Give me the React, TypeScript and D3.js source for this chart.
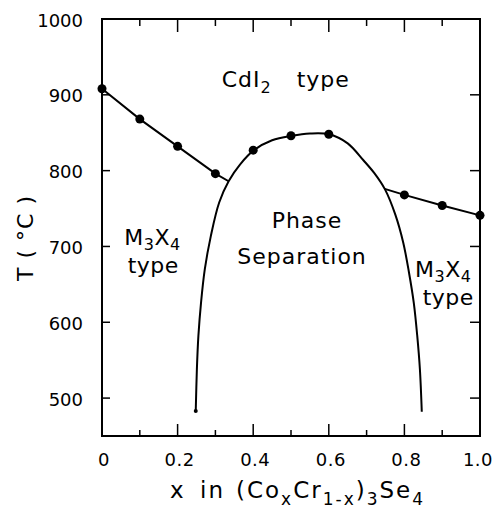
import React from "react";
import * as d3 from "d3";

// Data
const leftBranchX = [0, 0.1, 0.2, 0.3, 0.335];
const leftBranchT = [908, 868, 832, 796, 786];
const leftMarkers = [0, 0.1, 0.2, 0.3];

const rightBranchX = [0.748, 0.8, 0.9, 1.0];
const rightBranchT = [776, 768, 754, 741];
const rightMarkers = [0.8, 0.9, 1.0];

const domeMarkerX = [0.4, 0.5, 0.6];
const domeMarkerT = [827, 846, 848];

const domeX = [0.248, 0.251, 0.255, 0.262, 0.272, 0.288, 0.31, 0.335, 0.365, 0.402, 0.45, 0.502, 0.55, 0.601, 0.65, 0.691, 0.72, 0.749, 0.776, 0.797, 0.812, 0.825, 0.834, 0.841, 0.846];
const domeT = [483, 538, 582, 626, 670, 714, 758, 786, 808, 827, 840, 846, 849, 848, 836, 814, 797, 775, 742, 705, 666, 625, 582, 538, 482];

const xMajorTicks = [0, 0.2, 0.4, 0.6, 0.8, 1.0];
const xTickLabels = ["0", "0.2", "0.4", "0.6", "0.8", "1.0"];
const xMinorTicks = [0.1, 0.3, 0.5, 0.7, 0.9];
const yTicks = [500, 600, 700, 800, 900, 1000];
const yTickLabels = ["500", "600", "700", "800", "900", "1000"];

export default function App() {
  const W = 494, H = 509;
  const x = d3.scaleLinear().domain([0, 1]).range([102, 480]);
  const y = d3.scaleLinear().domain([450, 1000]).range([436, 19]);

  const lin = d3.line<[number, number]>().x(d => x(d[0])).y(d => y(d[1]));
  const smooth = d3.line<[number, number]>().x(d => x(d[0])).y(d => y(d[1])).curve(d3.curveCatmullRom.alpha(0.5));

  const leftPts = leftBranchX.map((v, i) => [v, leftBranchT[i]] as [number, number]);
  const rightPts = rightBranchX.map((v, i) => [v, rightBranchT[i]] as [number, number]);
  const domePts = domeX.map((v, i) => [v, domeT[i]] as [number, number]);

  const markers: [number, number][] = [
    ...leftMarkers.map(v => [v, leftBranchT[leftBranchX.indexOf(v)]] as [number, number]),
    ...domeMarkerX.map((v, i) => [v, domeMarkerT[i]] as [number, number]),
    ...rightMarkers.map(v => [v, rightBranchT[rightBranchX.indexOf(v)]] as [number, number]),
  ];

  const font = "'DejaVu Sans', sans-serif";
  const [x0, x1] = x.range();
  const [yb, yt] = y.range();

  return (
    <svg width={W} height={H} style={{ position: "absolute", left: 0, top: 0, background: "#fff" }} fontFamily={font}>
      {/* frame */}
      <rect x={x0} y={yt} width={x1 - x0} height={yb - yt} fill="none" stroke="#000" strokeWidth={2} />
      {xMajorTicks.map(t => (
        <g key={"xm" + t}>
          <line x1={x(t)} x2={x(t)} y1={yb} y2={yb - 12} stroke="#000" strokeWidth={1.5} />
          <line x1={x(t)} x2={x(t)} y1={yt} y2={yt + 13} stroke="#000" strokeWidth={1.5} />
        </g>
      ))}
      {xMinorTicks.map(t => (
        <g key={"xn" + t}>
          <line x1={x(t)} x2={x(t)} y1={yb} y2={yb - 6} stroke="#000" strokeWidth={1.5} />
          <line x1={x(t)} x2={x(t)} y1={yt} y2={yt + 7} stroke="#000" strokeWidth={1.5} />
        </g>
      ))}
      {yTicks.map(t => (
        <g key={"y" + t}>
          <line x1={x0} x2={x0 + 8} y1={y(t)} y2={y(t)} stroke="#000" strokeWidth={1.5} />
          <line x1={x1} x2={x1 - 10} y1={y(t)} y2={y(t)} stroke="#000" strokeWidth={1.5} />
        </g>
      ))}
      {/* tick labels */}
      {xMajorTicks.map((t, i) => (
        <text key={"xl" + t} x={Math.min(x(t) + 2, W - 16)} y={466} fontSize={18} textAnchor="middle" letterSpacing={0.5}>{xTickLabels[i]}</text>
      ))}
      {yTicks.map((t, i) => (
        <text key={"yl" + t} x={83} y={y(t) + 7.5} fontSize={18} textAnchor="end">{yTickLabels[i]}</text>
      ))}
      {/* curves */}
      <path d={lin(leftPts) || ""} fill="none" stroke="#000" strokeWidth={2} />
      <path d={lin(rightPts) || ""} fill="none" stroke="#000" strokeWidth={2} />
      <path d={smooth(domePts) || ""} fill="none" stroke="#000" strokeWidth={2} />
      <circle cx={x(domeX[0])} cy={y(domeT[0])} r={2} fill="#000" />
      {markers.map((m, i) => (
        <circle key={"m" + i} cx={x(m[0])} cy={y(m[1])} r={4.5} fill="#000" />
      ))}
      {/* region labels */}
      <text fontSize={22} y={86.7} letterSpacing={1}>
        <tspan x={221.7}>CdI</tspan>
        <tspan fontSize={16} dy={6}>2</tspan>
        <tspan x={296.7} dy={-6}>type</tspan>
      </text>
      <text fontSize={22} x={307} y={228} textAnchor="middle" letterSpacing={1}>Phase</text>
      <text fontSize={22} x={302} y={264} textAnchor="middle" letterSpacing={1}>Separation</text>
      <text fontSize={22} y={245} letterSpacing={0.5}>
        <tspan x={124.3}>M</tspan>
        <tspan fontSize={16} dy={5}>3</tspan>
        <tspan dy={-5}>X</tspan>
        <tspan fontSize={16} dy={5}>4</tspan>
      </text>
      <text fontSize={22} x={127.7} y={273} letterSpacing={0.5}>type</text>
      <text fontSize={22} y={276.7} letterSpacing={0.5}>
        <tspan x={415}>M</tspan>
        <tspan fontSize={16} dy={5}>3</tspan>
        <tspan dy={-5}>X</tspan>
        <tspan fontSize={16} dy={5}>4</tspan>
      </text>
      <text fontSize={22} x={422.7} y={305} letterSpacing={0.5}>type</text>
      {/* axis titles */}
      <text fontSize={23} y={498} letterSpacing={2}>
        <tspan x={170}>x</tspan>
        <tspan x={200}>in</tspan>
        <tspan x={236}>(Co</tspan>
        <tspan fontSize={17} dy={7}>x</tspan>
        <tspan dy={-7}>Cr</tspan>
        <tspan fontSize={17} dy={7}>1-x</tspan>
        <tspan dy={-7}>)</tspan>
        <tspan fontSize={17} dy={7}>3</tspan>
        <tspan dy={-7}>Se</tspan>
        <tspan fontSize={17} dy={7}>4</tspan>
      </text>
      <text fontSize={22} transform="translate(33,238) rotate(-90)" textAnchor="middle" letterSpacing={1}>T ( °C )</text>
    </svg>
  );
}
